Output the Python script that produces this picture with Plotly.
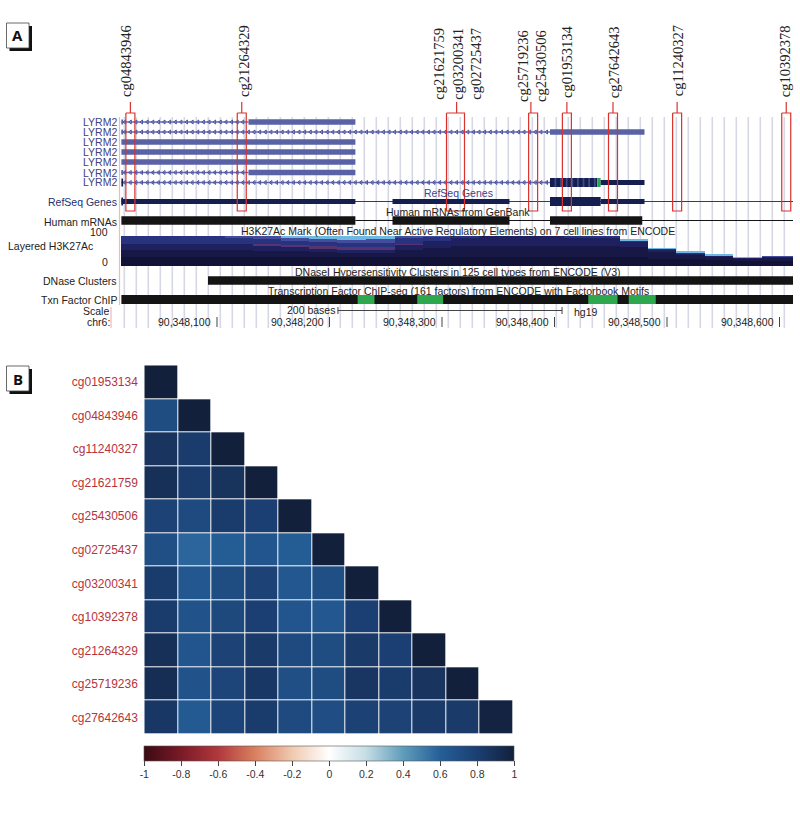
import plotly.graph_objects as go

W, H = 800, 814
PX_PER_BASE = 1.125
BASE0 = 90348100 - 217 / PX_PER_BASE

# ---- Panel A data (genomic positions, bases) ----
probes = ["cg04843946", "cg21264329", "cg21621759", "cg03200341", "cg02725437",
          "cg25719236", "cg25430506", "cg01953134", "cg27642643", "cg11240327", "cg10392378"]
probe_label_pos = [90348019, 90348124, 90348297, 90348314, 90348330,
                   90348372, 90348388, 90348411, 90348453, 90348510, 90348605]
probe_boxes = [(90348019, 90348027), (90348118, 90348126), (90348304, 90348320),
               (90348377, 90348385), (90348407, 90348415), (90348448, 90348456),
               (90348505, 90348513), (90348602, 90348610)]
probe_stems = [90348023, 90348122, 90348313, 90348379, 90348411, 90348452, 90348509, 90348606]

gene_rows = [122, 132, 142, 152, 162, 172.5, 182.5]
gene_introns = [(90348015, 90348128), (90348015, 90348396), None, None, None,
                (90348015, 90348128), (90348015, 90348396)]
gene_exons = [(90348128, 90348223), (90348396, 90348480), (90348015, 90348223),
              (90348015, 90348223), (90348015, 90348223), (90348128, 90348223), None]
gene_start_stub = (90348015, 90348016.5)
cds_thick = (90348396, 90348438)
cds_green = (90348438, 90348441)
cds_thin = (90348441, 90348480)

refseq_thick = [(90348015, 90348223), (90348256, 90348360), (90348441, 90348480)]
refseq_cds = [(90348396, 90348441)]
refseq_line = (90348015, 90348612)
mrna_blocks = [(90348015, 90348223), (90348256, 90348360), (90348396, 90348478)]
mrna_line = (90348223, 90348612)
dnase_blocks = [(90348092, 90348612)]
txn_black = (90348015, 90348612)
txn_green = [(90348225, 90348240), (90348278, 90348301), (90348430, 90348456), (90348466, 90348490)]
scale_bar = (90348207.5, 90348406.7)
pos_ticks = [90348100, 90348200, 90348300, 90348400, 90348500, 90348600]
pos_labels = ["90,348,100", "90,348,200", "90,348,300", "90,348,400", "90,348,500", "90,348,600"]

# layered H3K27Ac, 25-base bins, stacked signal per cell-line layer
h3k_edges = [90348015, 90348031, 90348056, 90348081, 90348107, 90348132, 90348157, 90348182,
             90348207, 90348232, 90348258, 90348283, 90348308, 90348333, 90348358, 90348383,
             90348408, 90348433, 90348458, 90348483, 90348508, 90348534, 90348559, 90348584, 90348612]
h3k_l1 = [30]*19 + [25, 22, 20, 18, 18]
h3k_l2 = [22, 22, 22, 22, 24, 20, 20, 16, 14, 14, 22, 30, 36, 36, 36, 36, 36, 36, 34, 22, 16, 11, 8, 9]
h3k_l3 = [22, 22, 22, 22, 18, 18, 14, 12, 10, 10, 18, 24, 30, 34, 34, 34, 28, 28, 18, 8, 5, 3, 2, 3]
h3k_l4 = [0, 0, 0, 0, 0, 4, 6, 10, 10, 8, 4, 0, 0, 0, 0, 0, 0, 0, 0, 0, 0, 0, 0, 2]
h3k_l5 = [26, 26, 26, 26, 24, 18, 14, 12, 12, 14, 18, 14, 4, 0, 0, 0, 6, 6, 3, 2, 1, 0, 0, 0]
h3k_l6 = [0, 0, 0, 0, 4, 10, 8, 10, 12, 14, 8, 2, 0, 0, 0, 0, 0, 0, 0, 0, 0, 0, 0, 1]
h3k_l7 = [0, 0, 0, 0, 0, 0, 8, 10, 12, 10, 0, 0, 0, 0, 0, 0, 0, 0, 2, 3, 3, 3, 2, 0]
h3k_layers = [h3k_l1, h3k_l2, h3k_l3, h3k_l4, h3k_l5, h3k_l6, h3k_l7]
h3k_colors = ["#111235", "#171845", "#1e2060", "#55346f", "#28337f", "#434d9c", "#6fb8e2"]

# ---- Panel B data ----
corr_names = ["cg01953134", "cg04843946", "cg11240327", "cg21621759", "cg25430506", "cg02725437",
              "cg03200341", "cg10392378", "cg21264329", "cg25719236", "cg27642643"]
corr_rows = [
    [1.0],
    [0.72, 1.0],
    [0.87, 0.82, 1.0],
    [0.90, 0.82, 0.88, 1.0],
    [0.78, 0.73, 0.82, 0.80, 1.0],
    [0.70, 0.58, 0.62, 0.66, 0.62, 1.0],
    [0.82, 0.65, 0.72, 0.78, 0.65, 0.70, 1.0],
    [0.82, 0.68, 0.74, 0.80, 0.66, 0.65, 0.80, 1.0],
    [0.90, 0.66, 0.78, 0.83, 0.73, 0.72, 0.83, 0.80, 1.0],
    [0.91, 0.68, 0.76, 0.85, 0.70, 0.72, 0.86, 0.82, 0.87, 1.0],
    [0.85, 0.63, 0.77, 0.82, 0.73, 0.71, 0.79, 0.78, 0.83, 0.83, 0.98],
]
corr_ticks = [-1, -0.8, -0.6, -0.4, -0.2, 0, 0.2, 0.4, 0.6, 0.8, 1]
corr_colors = ["#3b0a14", "#7a1a26", "#b0383d", "#d9805f", "#f0c9b0", "#ffffff",
               "#c5dde4", "#5f9dbb", "#255f98", "#1b3f72", "#13203b"]

# ---- style ----
SANS = "Liberation Sans"
SERIF = "Liberation Serif"
EXON = "#5a62a6"
NAVY = "#141f50"
BLACK = "#141414"
GREEN = "#2ea84f"
RED = "#d9322e"
GRID = "#d6d8e6"
TXT = "#333333"

fig = go.Figure()


def segs(pairs, y):
    xs, ys = [], []
    for a, b in pairs:
        xs += [a, b, None]
        ys += [y, y, None]
    return xs, ys


def lines(pairs_y, color, width):
    xs, ys = [], []
    for pairs, y in pairs_y:
        a, b = segs(pairs, y)
        xs += a
        ys += b
    fig.add_trace(go.Scatter(x=xs, y=ys, mode="lines", line=dict(color=color, width=width),
                             hoverinfo="skip", showlegend=False, xaxis="x", yaxis="y"))


# grid behind everything
grid_x, grid_y = [], []
g = BASE0 + 652.3 / PX_PER_BASE
while g > BASE0 + 121 / PX_PER_BASE:
    grid_x += [g, g, None]
    grid_y += [117, 328, None]
    g -= 32 / 3
g = BASE0 + 664.3 / PX_PER_BASE
while g < BASE0 + 795 / PX_PER_BASE:
    grid_x += [g, g, None]
    grid_y += [117, 328, None]
    g += 32 / 3
fig.add_trace(go.Scatter(x=grid_x, y=grid_y, mode="lines", line=dict(color=GRID, width=1.6),
                         hoverinfo="skip", showlegend=False, xaxis="x", yaxis="y"))

# pink frame line
pink_x = [BASE0 + 119.5 / PX_PER_BASE] * 2 + [None] + [BASE0 + 111 / PX_PER_BASE] * 2
fig.add_trace(go.Scatter(x=pink_x, y=[117, 305, None, 307, 328], mode="lines",
                         line=dict(color="#f2b8b8", width=1.2),
                         hoverinfo="skip", showlegend=False, xaxis="x", yaxis="y"))

# LYRM2 transcripts
lines([([iv], y) for iv, y in zip(gene_introns, gene_rows) if iv], "#666cad", 1.3)
mx, my = [], []
for iv, y in zip(gene_introns, gene_rows):
    if iv:
        p = iv[0] + 3
        while p < iv[1]:
            mx.append(p)
            my.append(y)
            p += 5
fig.add_trace(go.Scatter(x=mx, y=my, mode="markers",
                         marker=dict(symbol="triangle-left-open", size=3.5, color="#4f55a0",
                                     line=dict(width=1, color="#4f55a0")),
                         hoverinfo="skip", showlegend=False, xaxis="x", yaxis="y"))
lines([([gene_start_stub], gene_rows[i]) for i in (0, 1, 5)], EXON, 5)
lines([([gene_start_stub], gene_rows[6])], NAVY, 8)
lines([([gene_start_stub], 201.5)], NAVY, 8)
lines([([iv], y) for iv, y in zip(gene_exons, gene_rows) if iv], EXON, 5.5)
lines([([cds_thick], gene_rows[6])], NAVY, 9)
stripes = []
p = cds_thick[0] + 4
while p < cds_thick[1]:
    stripes.append((p, p + 1.6))
    p += 5
lines([(stripes, gene_rows[6])], "#3b4a86", 9)
lines([([cds_green], gene_rows[6])], GREEN, 9)
lines([([cds_thin], gene_rows[6])], NAVY, 5)

# RefSeq
lines([([refseq_line], 201.5)], "#2b3a78", 1)
lines([(refseq_thick, 201.5)], NAVY, 5)
lines([(refseq_cds, 201.5)], NAVY, 9)

# mRNA
lines([([mrna_line], 220.5)], BLACK, 1)
lines([(mrna_blocks, 220.5)], BLACK, 8.5)

# DNase, Txn
lines([(dnase_blocks, 280.5)], BLACK, 8.5)
lines([([txn_black], 299.5)], BLACK, 9)
lines([(txn_green, 299.5)], GREEN, 9)

# scale bar and position ticks
sc = [scale_bar[0], scale_bar[1], None, scale_bar[0], scale_bar[0], None, scale_bar[1], scale_bar[1]]
fig.add_trace(go.Scatter(x=sc, y=[310.5, 310.5, None, 307, 314, None, 307, 314], mode="lines",
                         line=dict(color="#444444", width=1), hoverinfo="skip", showlegend=False,
                         xaxis="x", yaxis="y"))
tx, ty = [], []
for t in pos_ticks:
    tx += [t, t, None]
    ty += [317, 327, None]
fig.add_trace(go.Scatter(x=tx, y=ty, mode="lines", line=dict(color="#444444", width=1),
                         hoverinfo="skip", showlegend=False, xaxis="x", yaxis="y"))

# red probe boxes and stems
bx, by = [], []
for a, b in probe_boxes:
    bx += [a, b, b, a, a, None]
    by += [113, 113, 211, 211, 113, None]
for s in probe_stems:
    bx += [s, s, None]
    by += [102, 113, None]
fig.add_trace(go.Scatter(x=bx, y=by, mode="lines", line=dict(color=RED, width=1.2),
                         hoverinfo="skip", showlegend=False, xaxis="x", yaxis="y"))

# layered H3K27Ac
centers = [(a + b) / 2 for a, b in zip(h3k_edges[:-1], h3k_edges[1:])]
widths = [b - a for a, b in zip(h3k_edges[:-1], h3k_edges[1:])]
for vals, col in zip(h3k_layers, h3k_colors):
    fig.add_trace(go.Bar(x=centers, y=vals, width=widths, marker=dict(color=col, line=dict(width=0)),
                         hoverinfo="skip", showlegend=False, xaxis="x", yaxis="y2"))

# correlation heatmap
z = [r + [None] * (len(corr_names) - len(r)) for r in corr_rows]
fig.add_trace(go.Heatmap(
    z=z, x=corr_names, y=corr_names, xaxis="x3", yaxis="y3", zmin=-1, zmax=1, xgap=1, ygap=1,
    colorscale=[[(t + 1) / 2, c] for t, c in zip(corr_ticks, corr_colors)],
    hoverongaps=False,
    colorbar=dict(orientation="h", x=144.3 / W, xanchor="left", y=1 - 746 / H, yanchor="top",
                  yref="container", xref="container",
                  len=370, lenmode="pixels", thickness=15, thicknessmode="pixels",
                  xpad=0, ypad=0, outlinecolor="#555555", outlinewidth=0.6,
                  tickvals=corr_ticks, ticktext=[f"{t:g}" for t in corr_ticks],
                  ticks="outside", ticklen=5, tickcolor="#444444", tickwidth=0.7,
                  tickfont=dict(family=SANS, size=10.5, color=TXT)),
))

ann = []


def text(x, y, s, size=10.5, color=TXT, anchor="center", family=SANS, angle=0, xref="paper"):
    ann.append(dict(x=x / W if xref == "paper" else x, y=1 - y / H, xref=xref, yref="paper", text=s,
                    showarrow=False, xanchor=anchor, yanchor="middle", textangle=angle,
                    font=dict(family=family, size=size, color=color)))


# rotated probe labels
label_mid_y = [61, 61, 64, 64, 64, 66, 66, 62, 62, 61, 61]
for name, pos, ym in zip(probes, probe_label_pos, label_mid_y):
    ann.append(dict(x=pos, y=1 - ym / H, xref="x", yref="paper", text=name, showarrow=False,
                    xanchor="center", yanchor="middle", textangle=-90,
                    font=dict(family=SERIF, size=14.5, color="#222222")))

for y in gene_rows:
    text(119, y, "LYRM2", color="#3d4280", anchor="right")
text(119, 202, "RefSeq Genes", color="#26306e", anchor="right")
text(119, 221.5, "Human mRNAs", anchor="right", color="#222222")
text(6, 245.5, "Layered H3K27Ac", anchor="left", color="#222222")
text(110, 232, "100", anchor="right", color="#222222")
text(110, 262, "0", anchor="right", color="#222222")
text(119, 281, "DNase Clusters", anchor="right", color="#222222")
text(119, 300, "Txn Factor ChIP", anchor="right", color="#222222")
text(111, 311, "Scale", anchor="right", color="#222222")
text(112, 322.5, "chr6:", anchor="right", color="#222222")
text(337, 310.5, "200 bases", anchor="right", color="#222222")
text(572, 311.5, "hg19", anchor="left", color="#222222")
text(458, 193, "RefSeq Genes", color="#3a4590")
text(458, 212, "Human mRNAs from GenBank", color="#222222")
text(458, 231, "H3K27Ac Mark (Often Found Near Active Regulatory Elements) on 7 cell lines from ENCODE", color="#222222")
text(458, 272, "DNaseI Hypersensitivity Clusters in 125 cell types from ENCODE (V3)", color="#222222")
text(458, 291, "Transcription Factor ChIP-seq (161 factors) from ENCODE with Factorbook Motifs", color="#222222")
for t, lab in zip(pos_ticks, pos_labels):
    ann.append(dict(x=t, y=1 - 322.5 / H, xref="x", yref="paper", text=lab, showarrow=False,
                    xanchor="right", yanchor="middle", xshift=-4,
                    font=dict(family=SANS, size=10.5, color="#222222")))

# panel letters with drop shadow
shapes = []
for letter, x0, y0, x1, y1 in [("A", 6.5, 23, 29, 48), ("B", 6.5, 366, 29, 391)]:
    shapes.append(dict(type="rect", xref="paper", yref="paper", x0=(x0 + 3) / W, x1=(x1 + 3) / W,
                       y0=1 - (y0 + 3) / H, y1=1 - (y1 + 3) / H, fillcolor="#111111",
                       line=dict(width=0), layer="above"))
    shapes.append(dict(type="rect", xref="paper", yref="paper", x0=x0 / W, x1=x1 / W,
                       y0=1 - y0 / H, y1=1 - y1 / H, fillcolor="#ffffff",
                       line=dict(width=0.8, color="#444444"), layer="above"))
    text((x0 + x1) / 2, (y0 + y1) / 2, f"<b>{letter}</b>", size=15, color="#111111", family="Open Sans")

fig.update_layout(
    width=W, height=H, autosize=False, margin=dict(l=0, r=0, t=0, b=0, autoexpand=False),
    paper_bgcolor="white", plot_bgcolor="rgba(0,0,0,0)", barmode="stack", bargap=0,
    showlegend=False, annotations=ann, shapes=shapes,
    xaxis=dict(domain=[0, 1], range=[BASE0, BASE0 + W / PX_PER_BASE], visible=False, fixedrange=True),
    yaxis=dict(domain=[0, 1], range=[H, 0], visible=False, fixedrange=True),
    yaxis2=dict(domain=[1 - 266 / H, 1 - 236 / H], range=[0, 100], visible=False, fixedrange=True, anchor="x"),
    xaxis3=dict(domain=[144.3 / W, 513.3 / W], visible=False, anchor="y3", fixedrange=True,
                categoryorder="array", categoryarray=corr_names),
    yaxis3=dict(domain=[1 - 734.3 / H, 1 - 365.3 / H], anchor="x3", autorange="reversed", fixedrange=True,
                showgrid=False, zeroline=False, showline=False,
                ticks="outside", ticklen=3, tickcolor="white",
                tickfont=dict(family=SANS, size=12, color="#b5343c")),
)
fig.write_html("out.html", config={"displayModeBar": False},
               post_script="document.body.style.margin='0';document.body.style.padding='0';")
